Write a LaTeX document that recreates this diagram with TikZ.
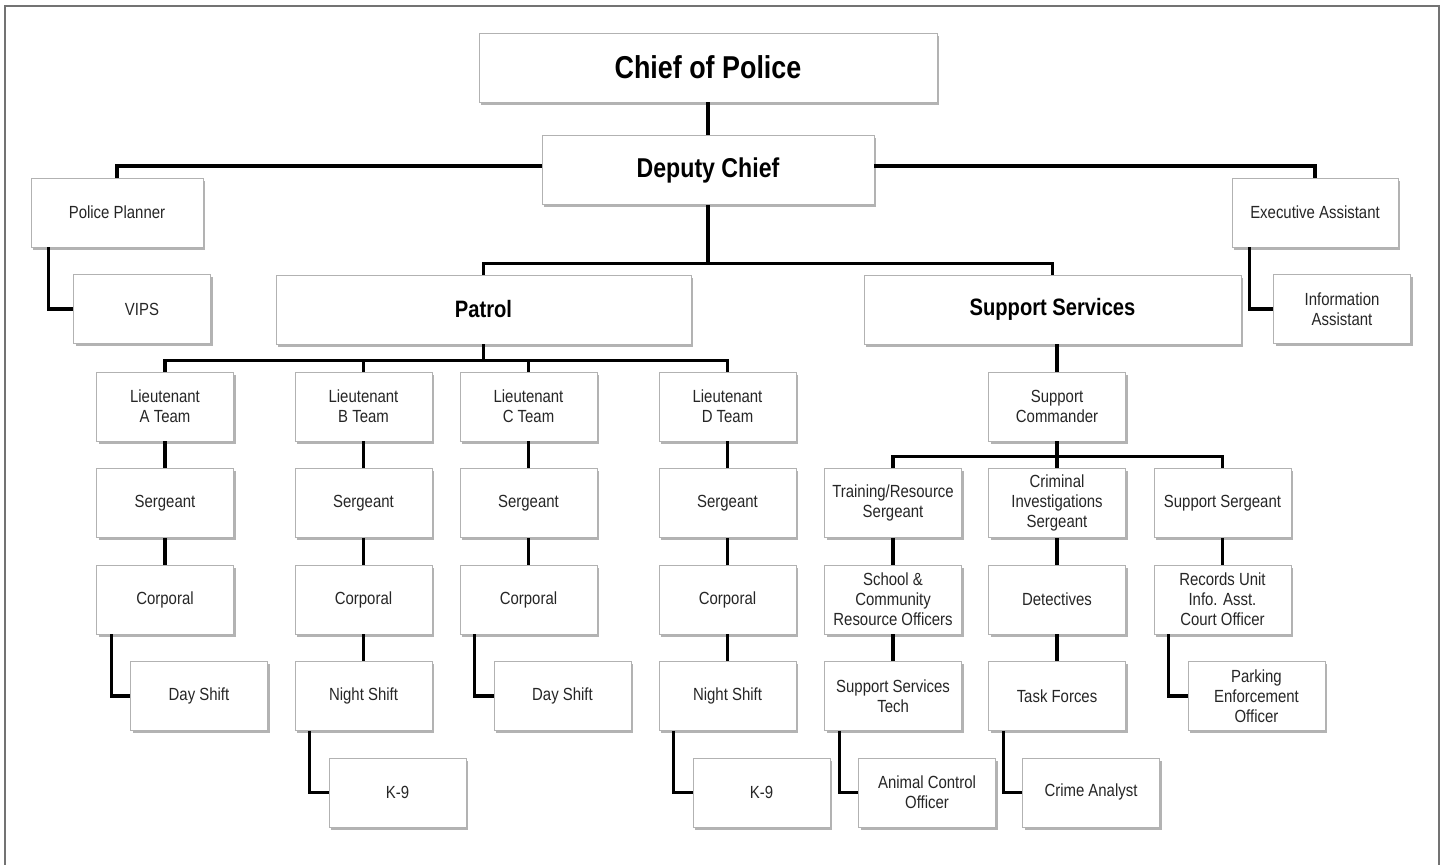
\documentclass[tikz,border=0pt]{standalone}
\usepackage{fontspec}
\setmainfont{Liberation Sans}[FakeStretch=0.85]
\usetikzlibrary{positioning,shadows}

\begin{document}
\begin{tikzpicture}[x=0.02cm, y=-0.02cm,
		basic/.style    = {draw=black!30, thin, fill=white, rectangle, align=center, inner sep=1pt, minimum height=1.38cm,
		                   drop shadow={shadow xshift=1.2pt, shadow yshift=-1.6pt, fill=black!50, opacity=0.6}},
		chief/.style    = {basic, minimum width=9.16cm, font=\fontsize{18}{20}\selectfont\bfseries},
		deputy/.style   = {basic, minimum width=6.64cm, font=\fontsize{15.5}{18}\selectfont\bfseries},
		division/.style = {basic, font=\fontsize{13.5}{16}\selectfont\bfseries},
		rank/.style     = {basic, minimum width=2.74cm, text=black!85, font=\fontsize{10}{11.5}\selectfont},
		link/.style     = {draw, line width=1.8pt},
		node distance=1.93cm]
		
		\useasboundingbox (0,0) rectangle (1447,865);
		\draw[black!55, line width=1.2pt] (5,865) -- (5,6) -- (1439,6) -- (1439,865);
		
		\node[chief] (chief) at (708,67.5) {Chief of Police};
		\node[deputy] (deputy) at (708,170) {Deputy Chief};
		
		\node[rank, minimum width=3.44cm] (planner) at (117,212.5) {Police Planner};
		\node[rank, below of=planner, xshift=0.5cm] (vips) {VIPS};
		\node[rank, minimum width=3.32cm] (exec) at (1315,212.5) {Executive Assistant};
		\node[rank, below of=exec, xshift=0.54cm] (info) {Information\\Assistant};
		
		\node[division, minimum width=8.3cm] (patrol) at (483.5,309.5) {Patrol};
		\node[division, minimum width=7.54cm] (support) at (1052.5,309.5) {Support Services};
		
		% patrol teams
		\foreach \col/\x in {A/165, B/363.5, C/528.5, D/727.5} {
			\node[rank] (lt\col) at (\x,406.5) {Lieutenant\\\col\ Team};
			\node[rank, below of=lt\col] (sgt\col) {Sergeant};
			\node[rank, below of=sgt\col] (cpl\col) {Corporal};
		}
		
		\begin{scope}[every node/.style={rank}]
		\node [below of = cplA, xshift=0.68cm] (dayA) {Day Shift};
		\node [below of = cplB] (nightB) {Night Shift};
		\node [below of = nightB, xshift=0.68cm] (kB) {K-9};
		\node [below of = cplC, xshift=0.68cm] (dayC) {Day Shift};
		\node [below of = cplD] (nightD) {Night Shift};
		\node [below of = nightD, xshift=0.68cm] (kD) {K-9};
		
		% support services
		\node (cmdr) at (1057,406.5) {Support\\Commander};
		\node [below of = cmdr, xshift=-3.28cm] (trn) {Training/Resource\\Sergeant};
		\node [below of = cmdr] (crim) {Criminal\\Investigations\\Sergeant};
		\node [below of = cmdr, xshift=3.31cm] (ssgt) {Support Sergeant};
		
		\node [below of = trn] (school) {School \&\\Community\\Resource Officers};
		\node [below of = school] (tech) {Support Services\\Tech};
		\node [below of = tech, xshift=0.68cm] (animal) {Animal Control\\Officer};
		
		\node [below of = crim] (det) {Detectives};
		\node [below of = det] (task) {Task Forces};
		\node [below of = task, xshift=0.68cm] (analyst) {Crime Analyst};
		
		\node [below of = ssgt] (records) {Records Unit\\Info. Asst.\\Court Officer};
		\node [below of = records, xshift=0.68cm] (parking) {Parking\\Enforcement\\Officer};
		\end{scope}
		
		% connectors
		\draw[link] (chief) -- (deputy);
		\draw[link] ([yshift=0.08cm]deputy.west) -| (planner.north);
		\draw[link] ([yshift=0.08cm]deputy.east) -| (exec.north);
		\draw[link] (planner.207) |- (vips.west);
		\draw[link] (exec.208) |- (info.west);
		
		\draw[link] (deputy.south) -- ++(0,-1.18cm) coordinate (dbar);
		\draw[link] (patrol.north) |- (dbar) -| (support.north);
		
		\draw[link] (patrol.south) -- ++(0,-0.32cm) coordinate (lbar);
		\draw[link] (ltA.north) |- (lbar) -| (ltD.north);
		\foreach \col in {B,C}
		\draw[link] (lt\col.north) -- (lt\col.north |- lbar);
		
		\foreach \col in {A,B,C,D} {
			\draw[link] (lt\col) -- (sgt\col);
			\draw[link] (sgt\col) -- (cpl\col);
		}
		
		\foreach \col in {A,C}
		\draw[link] (cpl\col.213) |- (day\col.west);
		
		\foreach \col in {B,D} {
			\draw[link] (cpl\col) -- (night\col);
			\draw[link] (night\col.213) |- (k\col.west);
		}
		
		\draw[link] (cmdr.north) -- (cmdr.north |- support.south);
		\draw[link] (cmdr.south) -- ++(0,-0.3cm) coordinate (sbar);
		\draw[link] (trn.north) |- (sbar) -| (ssgt.north);
		\draw[link] (sbar) -- (crim.north);
		
		\draw[link] (trn) -- (school);
		\draw[link] (school) -- (tech);
		\draw[link] (tech.213) |- (animal.west);
		
		\draw[link] (crim) -- (det);
		\draw[link] (det) -- (task);
		\draw[link] (task.213) |- (analyst.west);
		
		\draw[link] (ssgt) -- (records);
		\draw[link] (records.213) |- (parking.west);
		
	\end{tikzpicture}
\end{document}
